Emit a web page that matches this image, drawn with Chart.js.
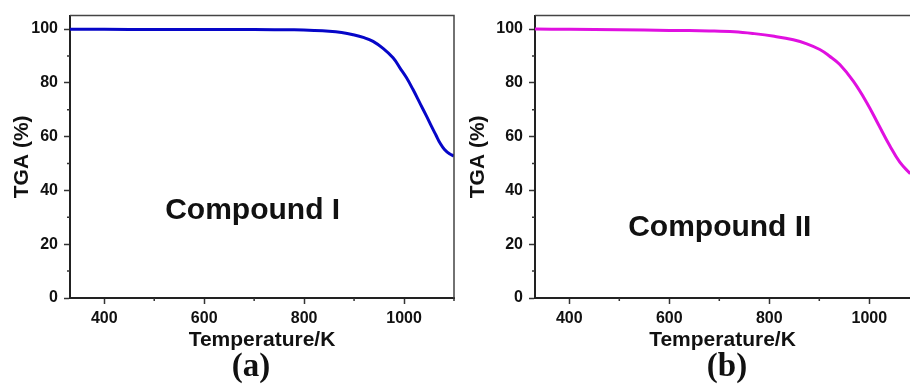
<!DOCTYPE html>
<html>
<head>
<meta charset="utf-8">
<script src="https://cdn.jsdelivr.net/npm/chart.js@4"></script>
<style>
    body { margin: 0; background: #fff; }
    .wrap { display: flex; width: 910px; height: 387px; }
    canvas { display: block; }
</style>
</head>
<body>
<div class="wrap">
    <canvas id="chartA" width="455" height="387"></canvas>
    <canvas id="chartB" width="455" height="387"></canvas>
</div>
<script>
// ============================================
// DATOS
// ============================================

const tempsI = [331, 400, 500, 600, 700, 780, 820, 850, 875, 898, 920, 938, 958, 978, 992, 1005, 1018, 1033, 1045, 1055, 1064, 1072, 1081, 1091, 1100];
const tgaI   = [99.9, 99.9, 99.8, 99.8, 99.8, 99.7, 99.5, 99.2, 98.7, 97.9, 96.8, 95.4, 92.8, 89.3, 85.5, 81.9, 77.5, 72.0, 67.6, 63.8, 60.5, 57.6, 55.2, 53.6, 52.8];

const tempsII = [330, 400, 500, 600, 680, 730, 770, 810, 848, 875, 901, 920, 941, 968, 995, 1018, 1041, 1061, 1082];
const tgaII   = [100, 99.9, 99.7, 99.5, 99.3, 99.0, 98.3, 97.3, 96.0, 94.5, 92.4, 90.0, 86.8, 80.6, 72.6, 64.6, 56.6, 50.5, 46.2];

const xTicks = [400, 600, 800, 1000];
const xMinorTicks = [500, 700, 900, 1100];
const yTicks = [0, 20, 40, 60, 80, 100];
const yMinorTicks = [10, 30, 50, 70, 90];

const FONT = '"Liberation Sans", Arial, sans-serif';


// ============================================
// PLUGIN: marco, ticks menores y rótulos
// ============================================

const framePlugin = {

    id: 'frame',

    afterDraw(chart, args, opts) {

        const { ctx, chartArea: a, scales } = chart;

        ctx.save();

        // marco superior / derecho
        ctx.strokeStyle = '#444';
        ctx.lineWidth = 1.5;
        ctx.beginPath();
        ctx.moveTo(a.left, a.top);
        ctx.lineTo(a.right, a.top);
        if (opts.rightBorder) ctx.lineTo(a.right, a.bottom);
        ctx.stroke();

        // ticks menores
        ctx.strokeStyle = '#333';
        ctx.beginPath();
        xMinorTicks.forEach(v => {
            if (v > scales.x.max) return;
            const px = scales.x.getPixelForValue(v);
            ctx.moveTo(px, a.bottom);
            ctx.lineTo(px, a.bottom + 3);
        });
        yMinorTicks.forEach(v => {
            const py = scales.y.getPixelForValue(v);
            ctx.moveTo(a.left - 3, py);
            ctx.lineTo(a.left, py);
        });
        ctx.stroke();

        // nombre del compuesto
        ctx.fillStyle = '#111';
        ctx.textAlign = 'center';
        ctx.textBaseline = 'middle';
        ctx.font = 'bold 30px ' + FONT;
        ctx.fillText(
            opts.name,
            scales.x.getPixelForValue(opts.nameAt[0]),
            scales.y.getPixelForValue(opts.nameAt[1])
        );

        // (a) / (b)
        ctx.font = 'bold 33px "Liberation Serif", "Times New Roman", serif';
        ctx.fillText(opts.panel, opts.panelX, 367);

        ctx.restore();
    }
};


// ============================================
// GRAFICA TGA
// ============================================

function createTgaChart(canvasId, temps, tga, color, cfg) {

    const ctx =
        document
        .getElementById(canvasId)
        .getContext('2d');

    const points = temps.map((t, i) => ({ x: t, y: tga[i] }));

    const tickFont = { family: FONT, size: 16, weight: 'bold' };
    const titleFont = { family: FONT, size: 21, weight: 'bold' };

    return new Chart(ctx, {

        type: 'line',

        data: {
            datasets: [
                {
                    data: points,
                    borderColor: color,
                    borderWidth: 3,
                    pointRadius: 0,
                    tension: 0.4,
                    fill: false
                }
            ]
        },

        options: {

            responsive: false,
            animation: false,
            devicePixelRatio: 1,

            layout: {
                padding: { top: 14, right: cfg.padRight, left: 0, bottom: 0 }
            },

            plugins: {
                legend: { display: false },
                tooltip: { enabled: false },
                frame: cfg.frame
            },

            scales: {

                x: {
                    type: 'linear',
                    min: cfg.xMin,
                    max: cfg.xMax,
                    afterBuildTicks: s => {
                        s.ticks = xTicks.map(v => ({ value: v }));
                    },
                    afterFit: s => { s.height = 89; },
                    ticks: {
                        padding: 5,
                        maxRotation: 0,
                        color: '#111',
                        font: tickFont,
                        callback: v => String(v)
                    },
                    grid: {
                        drawOnChartArea: false,
                        tickLength: 6,
                        tickWidth: 1.5,
                        tickColor: '#333'
                    },
                    border: { color: '#222', width: 2 },
                    title: {
                        display: true,
                        text: 'Temperature/K',
                        color: '#111',
                        padding: { top: 0, bottom: 34.4 },
                        font: titleFont
                    }
                },

                y: {
                    min: 0,
                    max: 105,
                    afterBuildTicks: s => {
                        s.ticks = yTicks.map(v => ({ value: v }));
                    },
                    afterFit: s => { s.width = cfg.yWidth; },
                    ticks: {
                        padding: 6,
                        color: '#111',
                        font: tickFont,
                        callback: v => String(v)
                    },
                    grid: {
                        drawOnChartArea: false,
                        tickLength: 6,
                        tickWidth: 1.5,
                        tickColor: '#333'
                    },
                    border: { color: '#222', width: 2 },
                    title: {
                        display: true,
                        text: 'TGA (%)',
                        color: '#111',
                        padding: { top: cfg.yTitlePad, bottom: 0 },
                        font: titleFont
                    }
                }
            }
        },

        plugins: [framePlugin]
    });
}


createTgaChart('chartA', tempsI, tgaI, '#0606c8', {
    xMin: 331.4,
    xMax: 1100,
    padRight: 1,
    yWidth: 70,
    yTitlePad: 9.4,
    frame: { rightBorder: true, name: 'Compound I', nameAt: [697, 32.6], panel: '(a)', panelX: 251 }
});

createTgaChart('chartB', tempsII, tgaII, '#e010e0', {
    xMin: 331.4,
    xMax: 1081.4,
    padRight: 0,
    yWidth: 80,
    yTitlePad: 10.4,
    frame: { rightBorder: false, name: 'Compound II', nameAt: [701, 26.3], panel: '(b)', panelX: 272 }
});
</script>
</body>
</html>
